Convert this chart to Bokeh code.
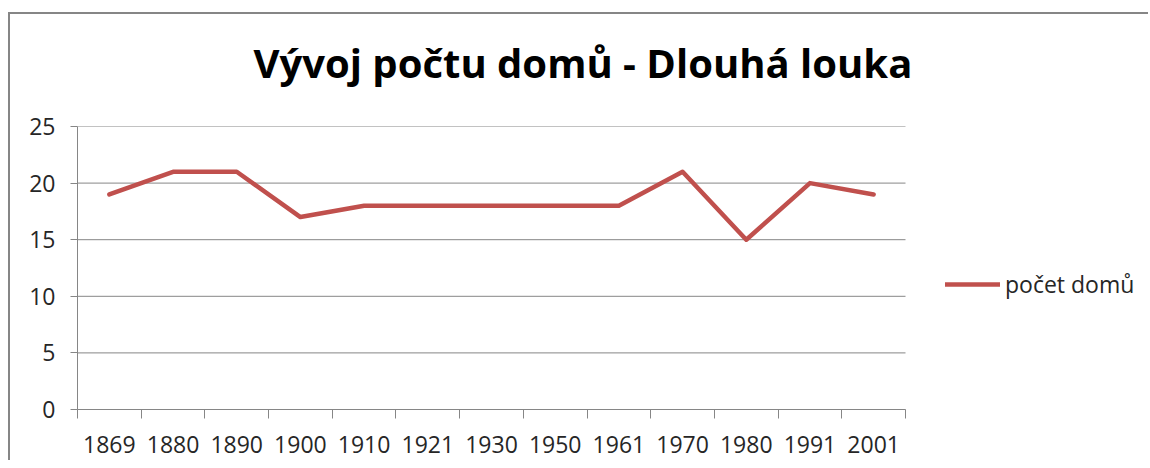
from bokeh.plotting import figure
from bokeh.models import Range1d, FixedTicker, Legend, LegendItem, ColumnDataSource, LinearAxis
from bokeh.embed import file_html
from bokeh.resources import INLINE

# ---- data ----
years = ["1869", "1880", "1890", "1900", "1910", "1921", "1930", "1950",
         "1961", "1970", "1980", "1991", "2001"]
houses = [19, 21, 21, 17, 18, 18, 18, 18, 18, 21, 15, 20, 19]
y_ticks = [0, 5, 10, 15, 20, 25]
title_text = "Vývoj počtu domů - Dlouhá louka"
series_name = "počet domů"

n = len(years)
xs = [i + 0.5 for i in range(n)]
src = ColumnDataSource(dict(x=xs, y=houses, year=years))
grid_src = ColumnDataSource(dict(x0=[0] * len(y_ticks), x1=[n] * len(y_ticks), y=y_ticks))

# ---- layout (pixels) ----
W, H = 1140, 448
LEFT, TOP, BOTTOM = 67, 112, 395      # frame edges inside the canvas
CAT_AREA = 828                        # width of the category axis in px
FONT = "Open Sans"
GRID = "#868686"
TXT = "#262626"

frame_w = W - LEFT
x_end = n * frame_w / CAT_AREA

p = figure(width=W, height=H, output_backend="svg", toolbar_location=None,
           x_range=Range1d(0, x_end), y_range=Range1d(0, 25),
           min_border_left=LEFT, min_border_right=0,
           min_border_top=TOP, min_border_bottom=H - BOTTOM)
p.styles = {"border-top": "2px solid #868686", "border-left": "2px solid #868686",
            "margin-top": "12px", "margin-left": "8px"}
p.outline_line_color = None
p.background_fill_color = "white"
p.border_fill_color = "white"

# bottom axis / left axis references (taken before any extra axis is added)
xa = p.below[0]
ya = p.left[0]

# invisible spacer between the frame and the title
spacer = LinearAxis(ticker=FixedTicker(ticks=[0]), major_tick_out=37, major_tick_in=0,
                    minor_tick_out=0, minor_tick_in=0, axis_line_color=None,
                    major_tick_line_color=None, minor_tick_line_color=None,
                    major_label_standoff=0, major_label_overrides={0: ""},
                    major_label_text_alpha=0)
p.add_layout(spacer, "above")

# title
p.title.text = title_text
p.title.text_font = FONT
p.title.text_font_style = "bold"
p.title.text_font_size = "40px"
p.title.text_color = "black"
p.title.align = "left"
p.title.offset = 176
p.title.standoff = 0

# horizontal gridlines, limited to the category area
p.segment(x0="x0", x1="x1", y0="y", y1="y", source=grid_src,
          line_color=GRID, line_width=1)

# x axis: labels centered in categories, tick marks between categories
xa.bounds = (0, n)
xa.ticker = FixedTicker(ticks=xs, minor_ticks=list(range(n + 1)))
xa.major_label_overrides = {x: y for x, y in zip(xs, years)}
xa.major_tick_out = 0
xa.major_tick_in = 0
xa.minor_tick_out = 9
xa.minor_tick_in = 0
xa.minor_tick_line_color = GRID
xa.axis_line_color = GRID
xa.major_label_text_font = FONT
xa.major_label_text_font_size = "23px"
xa.major_label_text_color = TXT
xa.major_label_standoff = 17

ya.ticker = FixedTicker(ticks=y_ticks)
ya.major_tick_out = 7
ya.major_tick_in = 0
ya.minor_tick_out = 0
ya.minor_tick_in = 0
ya.major_tick_line_color = GRID
ya.axis_line_color = GRID
ya.major_label_text_font = FONT
ya.major_label_text_font_size = "23px"
ya.major_label_text_color = TXT
ya.major_label_standoff = 15

p.xgrid.grid_line_color = None
p.ygrid.grid_line_color = None

r = p.line("x", "y", source=src, line_color="#C0504D", line_width=4.5,
           line_join="round", line_cap="round")

legend = Legend(items=[LegendItem(label=series_name, renderers=[r])],
                location=(868, 109), padding=0, margin=0,
                glyph_width=55, glyph_height=20, label_standoff=5,
                label_text_font=FONT, label_text_font_size="23px",
                label_text_color=TXT, border_line_color=None,
                background_fill_alpha=0)
p.add_layout(legend, "center")

open("out.html", "w").write(file_html(p, INLINE))
